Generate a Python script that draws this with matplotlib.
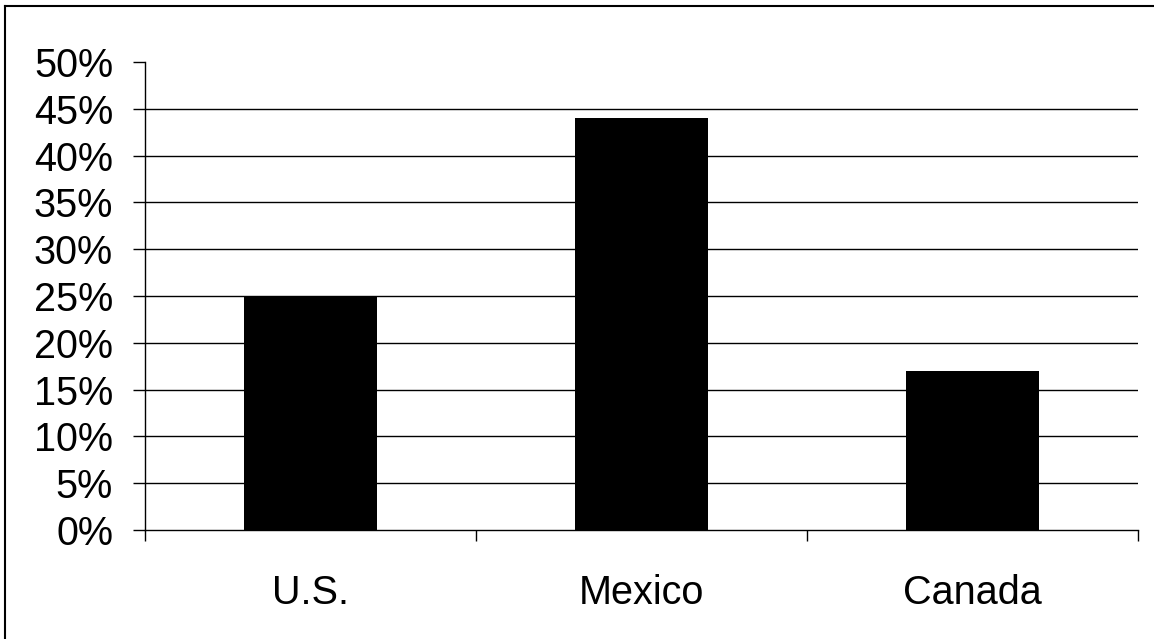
import matplotlib
matplotlib.use("Agg")
import matplotlib.pyplot as plt
from matplotlib.lines import Line2D
import numpy as np

categories = ["U.S.", "Mexico", "Canada"]
values = [25, 44, 17]
yticks = [0, 5, 10, 15, 20, 25, 30, 35, 40, 45, 50]
ytick_labels = [f"{v}%" for v in yticks]

plt.rcParams['font.family'] = ['Liberation Sans', 'DejaVu Sans']

W, H = 1154, 639
fig = plt.figure(figsize=(W / 100, H / 100), dpi=100)
ax = fig.add_axes([145 / W, 1 - 530 / H, (1138 - 145) / W, (530 - 62) / H])

x = np.arange(len(categories))
# gridlines (no line at the top value)
for v in yticks[1:-1]:
    ax.axhline(v, color="#000000", lw=1.0, zorder=1)
ax.bar(x, values, width=0.4, color="black", zorder=2)

ax.set_xlim(-0.5, len(categories) - 0.5)
ax.set_ylim(0, 50)
ax.set_yticks(yticks)
ax.set_yticklabels(ytick_labels, fontsize=28.5)
ax.set_xticks(x)
ax.set_xticklabels(categories, fontsize=28.5)
ax.set_xticks(np.arange(len(categories) + 1) - 0.5, minor=True)
ax.tick_params(axis="x", which="major", length=0, pad=32)
ax.tick_params(axis="x", which="minor", length=8, width=1, direction="out", color="black")
ax.tick_params(axis="y", length=9, width=1, direction="out", pad=14, color="black")

for s in ["top", "right"]:
    ax.spines[s].set_visible(False)
ax.spines["left"].set_linewidth(1)
ax.spines["bottom"].set_linewidth(1)

# outer frame (partially visible)
fig.add_artist(Line2D([5 / W, 5 / W], [0, 1 - 6 / H], color="black", lw=1.5, transform=fig.transFigure))
fig.add_artist(Line2D([5 / W, 1], [1 - 6 / H, 1 - 6 / H], color="black", lw=1.5, transform=fig.transFigure))

fig.savefig("out.png", dpi=100)
